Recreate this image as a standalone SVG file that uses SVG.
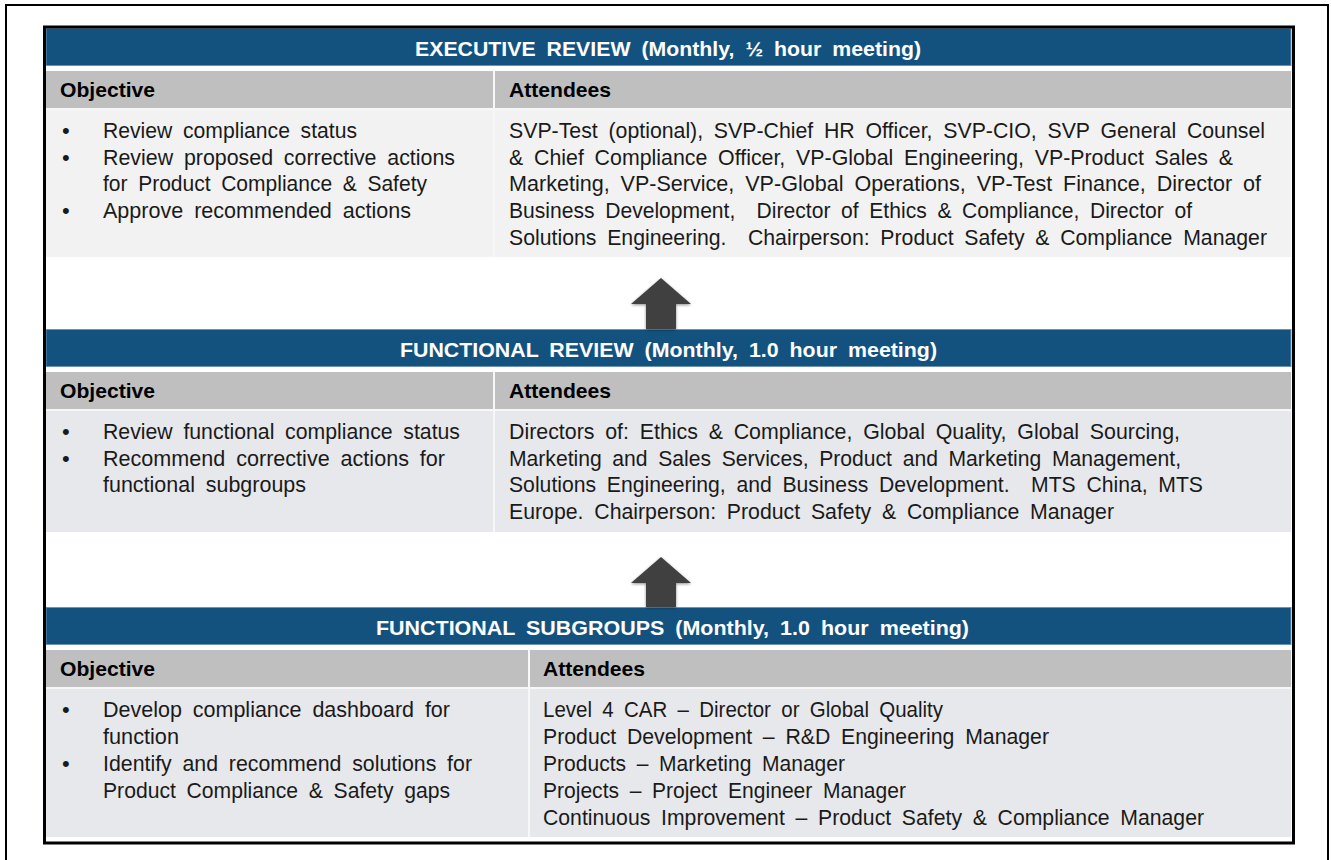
<svg xmlns="http://www.w3.org/2000/svg" width="1331" height="860" viewBox="0 0 1331 860">
  <defs>
    <style>
      .title { font-family: "Liberation Sans", Arial, sans-serif; font-size: 21px; font-weight: bold; fill: #ffffff; word-spacing: 5px; }
      .head { font-family: "Liberation Sans", Arial, sans-serif; font-size: 21px; font-weight: bold; fill: #000000; }
      .txt { font-family: "Liberation Sans", Arial, sans-serif; font-size: 22px; fill: #1a1a1a; word-spacing: 5px; }
      .band { fill: #13527f; stroke: #6d93b3; stroke-width: 1; }
      .hdr { fill: #bfbfbf; }
      .rowA { fill: #f2f2f2; }
      .rowB { fill: #e7e8eb; }
      .div { stroke: #f7f7f7; stroke-width: 2; }
      .arrow { fill: #414141; }
    </style>
    <filter id="soft" x="-30%" y="-30%" width="160%" height="160%">
      <feGaussianBlur in="SourceAlpha" stdDeviation="1.5"/>
      <feOffset dx="0" dy="1" result="b"/>
      <feComponentTransfer><feFuncA type="linear" slope="0.45"/></feComponentTransfer>
      <feMerge><feMergeNode/><feMergeNode in="SourceGraphic"/></feMerge>
    </filter>
  </defs>

  <rect width="1331" height="860" fill="#ffffff"/>
  <!-- page frame -->
  <rect x="6" y="5" width="1322" height="870" fill="none" stroke="#000" stroke-width="2"/>

  <!-- Executive review -->
  <g id="executive-review">
    <rect class="band" x="46" y="28.5" width="1245" height="37"/>
    <text class="title" x="415" y="56" textLength="506" lengthAdjust="spacingAndGlyphs">EXECUTIVE REVIEW (Monthly, ½ hour meeting)</text>
    <rect class="hdr" x="46" y="71" width="1245" height="37"/>
    <rect class="rowA" x="46" y="110" width="1245" height="147"/>
    <line class="div" x1="494" y1="71" x2="494" y2="257"/>
    <line class="div" x1="46" y1="109" x2="1291" y2="109"/>
    <text class="head" x="60" y="97" textLength="95" lengthAdjust="spacingAndGlyphs">Objective</text>
    <text class="head" x="509" y="97" textLength="102" lengthAdjust="spacingAndGlyphs">Attendees</text>
    <g class="txt">
      <text x="62" y="138">•</text>
      <text x="103" y="138" textLength="254" lengthAdjust="spacingAndGlyphs">Review compliance status</text>
      <text x="62" y="165">•</text>
      <text x="103" y="165" textLength="352" lengthAdjust="spacingAndGlyphs">Review proposed corrective actions</text>
      <text x="103" y="191" textLength="324" lengthAdjust="spacingAndGlyphs">for Product Compliance &amp; Safety</text>
      <text x="62" y="218">•</text>
      <text x="103" y="218" textLength="308" lengthAdjust="spacingAndGlyphs">Approve recommended actions</text>

      <text x="509" y="138" textLength="756" lengthAdjust="spacingAndGlyphs">SVP-Test (optional), SVP-Chief HR Officer, SVP-CIO, SVP General Counsel</text>
      <text x="509" y="165" textLength="724" lengthAdjust="spacingAndGlyphs">&amp; Chief Compliance Officer, VP-Global Engineering, VP-Product Sales &amp;</text>
      <text x="509" y="191" textLength="752" lengthAdjust="spacingAndGlyphs">Marketing, VP-Service, VP-Global Operations, VP-Test Finance, Director of</text>
      <text x="509" y="218" textLength="683" lengthAdjust="spacingAndGlyphs" xml:space="preserve">Business Development,  Director of Ethics &amp; Compliance, Director of</text>
      <text x="509" y="245" textLength="758" lengthAdjust="spacingAndGlyphs" xml:space="preserve">Solutions Engineering.  Chairperson: Product Safety &amp; Compliance Manager</text>
    </g>
  </g>

  <!-- Functional review -->
  <g id="functional-review">
    <rect class="band" x="46" y="329.5" width="1245" height="37"/>
    <text class="title" x="400" y="357" textLength="537" lengthAdjust="spacingAndGlyphs">FUNCTIONAL REVIEW (Monthly, 1.0 hour meeting)</text>
    <rect class="hdr" x="46" y="372" width="1245" height="37"/>
    <rect class="rowB" x="46" y="411" width="1245" height="121"/>
    <line class="div" x1="494" y1="372" x2="494" y2="532"/>
    <line class="div" x1="46" y1="410" x2="1291" y2="410"/>
    <text class="head" x="60" y="398" textLength="95" lengthAdjust="spacingAndGlyphs">Objective</text>
    <text class="head" x="509" y="398" textLength="102" lengthAdjust="spacingAndGlyphs">Attendees</text>
    <g class="txt">
      <text x="62" y="439">•</text>
      <text x="103" y="439" textLength="357" lengthAdjust="spacingAndGlyphs">Review functional compliance status</text>
      <text x="62" y="466">•</text>
      <text x="103" y="466" textLength="342" lengthAdjust="spacingAndGlyphs">Recommend corrective actions for</text>
      <text x="103" y="492" textLength="203" lengthAdjust="spacingAndGlyphs">functional subgroups</text>

      <text x="509" y="439" textLength="671" lengthAdjust="spacingAndGlyphs">Directors of: Ethics &amp; Compliance, Global Quality, Global Sourcing,</text>
      <text x="509" y="466" textLength="672" lengthAdjust="spacingAndGlyphs">Marketing and Sales Services, Product and Marketing Management,</text>
      <text x="509" y="492" textLength="694" lengthAdjust="spacingAndGlyphs" xml:space="preserve">Solutions Engineering, and Business Development.  MTS China, MTS</text>
      <text x="509" y="519" textLength="605" lengthAdjust="spacingAndGlyphs">Europe. Chairperson: Product Safety &amp; Compliance Manager</text>
    </g>
  </g>

  <!-- Functional subgroups -->
  <g id="functional-subgroups">
    <rect class="band" x="46" y="607.5" width="1245" height="37"/>
    <text class="title" x="376" y="635" textLength="593" lengthAdjust="spacingAndGlyphs">FUNCTIONAL SUBGROUPS (Monthly, 1.0 hour meeting)</text>
    <rect class="hdr" x="46" y="650" width="1245" height="37"/>
    <rect class="rowB" x="46" y="689" width="1245" height="148"/>
    <line class="div" x1="529" y1="650" x2="529" y2="837"/>
    <line class="div" x1="46" y1="688" x2="1291" y2="688"/>
    <text class="head" x="60" y="676" textLength="95" lengthAdjust="spacingAndGlyphs">Objective</text>
    <text class="head" x="543" y="676" textLength="102" lengthAdjust="spacingAndGlyphs">Attendees</text>
    <g class="txt">
      <text x="62" y="717">•</text>
      <text x="103" y="717" textLength="347" lengthAdjust="spacingAndGlyphs">Develop compliance dashboard for</text>
      <text x="103" y="744" textLength="76" lengthAdjust="spacingAndGlyphs">function</text>
      <text x="62" y="771">•</text>
      <text x="103" y="771" textLength="369" lengthAdjust="spacingAndGlyphs">Identify and recommend solutions for</text>
      <text x="103" y="798" textLength="347" lengthAdjust="spacingAndGlyphs">Product Compliance &amp; Safety gaps</text>

      <text x="543" y="717" textLength="400" lengthAdjust="spacingAndGlyphs">Level 4 CAR – Director or Global Quality</text>
      <text x="543" y="744" textLength="506" lengthAdjust="spacingAndGlyphs">Product Development – R&amp;D Engineering Manager</text>
      <text x="543" y="771" textLength="302" lengthAdjust="spacingAndGlyphs">Products – Marketing Manager</text>
      <text x="543" y="798" textLength="363" lengthAdjust="spacingAndGlyphs">Projects – Project Engineer Manager</text>
      <text x="543" y="825" textLength="661" lengthAdjust="spacingAndGlyphs">Continuous Improvement – Product Safety &amp; Compliance Manager</text>
    </g>
  </g>

  <!-- outer border of the review stack -->
  <rect x="44.5" y="27" width="1249" height="816" fill="none" stroke="#000" stroke-width="3"/>

  <!-- escalation arrows -->
  <g id="connectors">
    <polygon class="arrow" filter="url(#soft)" points="661,278 691,304 676,304 676,329 646,329 646,304 631,304"/>
    <polygon class="arrow" filter="url(#soft)" points="661,557 691,583 676,583 676,607 646,607 646,583 631,583"/>
  </g>
</svg>
